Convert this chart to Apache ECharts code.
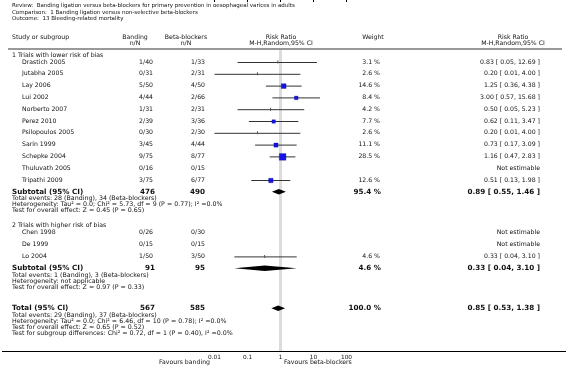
<!DOCTYPE html>
<html><head><meta charset="utf-8">
<script src="https://cdn.jsdelivr.net/npm/echarts@6/dist/echarts.min.js"></script>
<style>html,body{margin:0;padding:0;background:#fff}#c{width:566px;height:368px}</style>
</head><body><div id="c"></div>
<script>
// ---------- DATA ----------
const titleLines = [
  'Review:  Banding ligation versus beta-blockers for primary prevention in oesophageal varices in adults',
  'Comparison:  1 Banding ligation versus non-selective beta-blockers',
  'Outcome:  13 Bleeding-related mortality'
];
const g1Title = '1 Trials with lower risk of bias';
const g1Studies = ['Drastich 2005','Jutabha 2005','Lay 2006','Lui 2002','Norberto 2007','Perez 2010','Psilopoulos 2005','Sarin 1999','Schepke 2004','Thuluvath 2005','Tripathi 2009'];
const g1Banding = ['1/40','0/31','5/50','4/44','1/31','2/39','0/30','3/45','9/75','0/16','3/75'];
const g1Beta    = ['1/33','2/31','4/50','2/66','2/31','3/36','2/30','4/44','8/77','0/15','6/77'];
const g1Weight  = [3.1, 2.6, 14.6, 8.4, 4.2, 7.7, 2.6, 11.1, 28.5, null, 12.6];
const g1RR      = [0.83, 0.20, 1.25, 3.00, 0.50, 0.62, 0.20, 0.73, 1.16, null, 0.51];
const g1Lo      = [0.05, 0.01, 0.36, 0.57, 0.05, 0.11, 0.01, 0.17, 0.47, null, 0.13];
const g1Hi      = [12.69, 4.00, 4.38, 15.68, 5.23, 3.47, 4.00, 3.09, 2.83, null, 1.98];
const g1Sub = {n1:'476', n2:'490', w:95.4, rr:0.89, lo:0.55, hi:1.46};
const g1Notes = ['Total events: 28 (Banding), 34 (Beta-blockers)',
  'Heterogeneity: Tau\u00b2 = 0.0; Chi\u00b2 = 5.73, df = 9 (P = 0.77); I\u00b2 =0.0%',
  'Test for overall effect: Z = 0.45 (P = 0.65)'];

const g2Title = '2 Trials with higher risk of bias';
const g2Studies = ['Chen 1998','De 1999','Lo 2004'];
const g2Banding = ['0/26','0/15','1/50'];
const g2Beta    = ['0/30','0/15','3/50'];
const g2Weight  = [null, null, 4.6];
const g2RR      = [null, null, 0.33];
const g2Lo      = [null, null, 0.04];
const g2Hi      = [null, null, 3.10];
const g2Sub = {n1:'91', n2:'95', w:4.6, rr:0.33, lo:0.04, hi:3.10};
const g2Notes = ['Total events: 1 (Banding), 3 (Beta-blockers)',
  'Heterogeneity: not applicable',
  'Test for overall effect: Z = 0.97 (P = 0.33)'];

const total = {n1:'567', n2:'585', w:100.0, rr:0.85, lo:0.53, hi:1.38};
const totalNotes = ['Total events: 29 (Banding), 37 (Beta-blockers)',
  'Heterogeneity: Tau\u00b2 = 0.0; Chi\u00b2 = 6.46, df = 10 (P = 0.78); I\u00b2 =0.0%',
  'Test for overall effect: Z = 0.65 (P = 0.52)',
  'Test for subgroup differences: Chi\u00b2 = 0.72, df = 1 (P = 0.40), I\u00b2 =0.0%'];

const tickValues = [0.01, 0.1, 1, 10, 100];
const tickLabels = ['0.01', '0.1', '1', '10', '100'];
const favLeft = 'Favours banding';
const favRight = 'Favours beta-blockers';

// ---------- LAYOUT ----------
const FONT = 'DejaVu Sans';
const FS = 6.2, FSN = 6.3, FSB = 7.2, FST = 5.5;
const COL = '#111';
const X = {grp:12, name:22, n1:153, n2:205, rrHead:281, wHead:373, w:380, ciHead:513, ci:540};
const AXIS_Y = 351;

let y = 55;
const rows = [];
function addGroup(title, studies, b, bb, w, rr, lo, hi, sub, notes){
  rows.push({kind:'grp', y, text:title});
  y += 7;
  studies.forEach((s,i)=>{
    rows.push({kind:'study', y, name:s, n1:b[i], n2:bb[i], w:w[i], rr:rr[i], lo:lo[i], hi:hi[i]});
    y += 11.8;
  });
  rows.push({kind:'sub', y, name:'Subtotal (95% CI)', ...sub});
  y += 7;
  notes.forEach(n=>{ rows.push({kind:'note', y, text:n}); y += 6; });
}
addGroup(g1Title, g1Studies, g1Banding, g1Beta, g1Weight, g1RR, g1Lo, g1Hi, g1Sub, g1Notes);
y += 9;
addGroup(g2Title, g2Studies, g2Banding, g2Beta, g2Weight, g2RR, g2Lo, g2Hi, g2Sub, g2Notes);
y += 15;
rows.push({kind:'sub', y, name:'Total (95% CI)', ...total});
y += 7;
totalNotes.forEach(n=>{ rows.push({kind:'note', y, text:n}); y += 6; });

const fmtCI = r => r.rr==null ? 'Not estimable' : `${r.rr.toFixed(2)} [ ${r.lo.toFixed(2)}, ${r.hi.toFixed(2)} ]`;
const fmtW = w => w==null ? '' : `${w.toFixed(1)} %`;

function txt(x, yy, text, o={}){
  const fs = o.fs || FS;
  return {type:'text', x, y:yy, silent:true, style:{
    text, fill:o.fill||COL, fontFamily:FONT, fontSize:fs, fontWeight:o.bold?'bold':'normal',
    align:o.align||'left', verticalAlign:'middle', textAlign:o.align||'left', textVerticalAlign:'middle'}};
}

const graphics = [];
titleLines.forEach((t,i)=>graphics.push(txt(12, 6 + i*6.3, t, {fs:FST})));
graphics.push(txt(X.grp, 37, 'Study or subgroup'));
graphics.push(txt(135, 37, 'Banding', {align:'center'}));
graphics.push(txt(135, 43, 'n/N', {align:'center'}));
graphics.push(txt(186, 37, 'Beta-blockers', {align:'center'}));
graphics.push(txt(186, 43, 'n/N', {align:'center'}));
graphics.push(txt(X.rrHead, 37, 'Risk Ratio', {align:'center'}));
graphics.push(txt(X.rrHead, 43, 'M-H,Random,95% CI', {align:'center'}));
graphics.push(txt(X.wHead, 37, 'Weight', {align:'center'}));
graphics.push(txt(X.ciHead, 37, 'Risk Ratio', {align:'center'}));
graphics.push(txt(X.ciHead, 43, 'M-H,Random,95% CI', {align:'center'}));
graphics.push({type:'line', silent:true, shape:{x1:8, y1:49, x2:562, y2:49}, style:{stroke:'#999', lineWidth:2}});
graphics.push({type:'line', silent:true, shape:{x1:2, y1:AXIS_Y+0.5, x2:566, y2:AXIS_Y+0.5}, style:{stroke:'#000', lineWidth:1}});
graphics.push(txt(210, 362, favLeft, {align:'right'}));
graphics.push(txt(284, 362, favRight, {align:'left'}));

rows.forEach(r=>{
  if (r.kind==='grp') graphics.push(txt(X.grp, r.y, r.text));
  else if (r.kind==='note') graphics.push(txt(X.grp, r.y, r.text, {fs:FSN}));
  else if (r.kind==='study'){
    graphics.push(txt(X.name, r.y, r.name));
    graphics.push(txt(X.n1, r.y, r.n1, {align:'right'}));
    graphics.push(txt(X.n2, r.y, r.n2, {align:'right'}));
    graphics.push(txt(X.w, r.y, fmtW(r.w), {align:'right'}));
    graphics.push(txt(X.ci, r.y, fmtCI(r), {align:'right'}));
  } else if (r.kind==='sub'){
    graphics.push(txt(X.grp, r.y, r.name, {bold:true, fs:FSB}));
    graphics.push(txt(X.n1+2, r.y, r.n1, {bold:true, fs:FSB, align:'right'}));
    graphics.push(txt(X.n2, r.y, r.n2, {bold:true, fs:FSB, align:'right'}));
    graphics.push(txt(X.w+1, r.y, fmtW(r.w), {bold:true, fs:FSB, align:'right'}));
    graphics.push(txt(X.ci, r.y, fmtCI(r), {bold:true, fs:FSB, align:'right'}));
  }
});

const studyData = rows.filter(r=>r.kind==='study' && r.rr!=null).map(r=>[r.rr, r.lo, r.hi, r.w, r.y]);
const diamondData = rows.filter(r=>r.kind==='sub').map(r=>[r.rr, r.lo, r.hi, r.y]);

const chart = echarts.init(document.getElementById('c'), null, {renderer:'canvas'});
chart.setOption({
  animation:false,
  grid:{left:214.5, right:566-346.5, top:0, bottom:368-AXIS_Y},
  xAxis:{type:'log', logBase:10, min:0.01, max:100,
    axisLine:{show:false},
    axisTick:{show:true, length:2, lineStyle:{color:'#000', width:1}},
    splitLine:{show:false},
    axisLabel:{fontFamily:FONT, fontSize:5.8, color:COL, margin:3,
      formatter:v=>{const i=tickValues.findIndex(t=>Math.abs(Math.log10(t)-Math.log10(v))<1e-6); return i>=0?tickLabels[i]:'';}}},
  yAxis:{type:'value', min:0, max:AXIS_Y, inverse:true, show:false},
  graphic:graphics,
  series:[
    {type:'custom', silent:true, data:[[1]], z:1,
      renderItem:(p,api)=>{const a=api.coord([1,50]), b=api.coord([1,AXIS_Y]);
        return {type:'line', shape:{x1:a[0],y1:a[1],x2:b[0],y2:b[1]}, style:{stroke:'#dcdcdc', lineWidth:3}};}},
    {type:'custom', silent:true, data:studyData, z:3,
      renderItem:(p,api)=>{
        const yy=api.value(4), w=api.value(3);
        const l=api.coord([api.value(1),yy]), h=api.coord([api.value(2),yy]), c=api.coord([api.value(0),yy]);
        const kids=[{type:'line', shape:{x1:l[0],y1:l[1]+0.5,x2:h[0],y2:h[1]+0.5}, style:{stroke:'#333', lineWidth:1}}];
        if (w<5) kids.push({type:'rect', shape:{x:c[0]-0.5,y:c[1]-1.5,width:1,height:3}, style:{fill:'#555'}});
        else {const s=1.25*Math.sqrt(w); kids.push({type:'rect', shape:{x:c[0]-s/2,y:c[1]-s/2+0.5,width:s,height:s}, style:{fill:'#1414e6', stroke:'#000080', lineWidth:0.3}});}
        return {type:'group', children:kids};
      }},
    {type:'custom', silent:true, data:diamondData, z:3,
      renderItem:(p,api)=>{
        const yy=api.value(3);
        const l=api.coord([api.value(1),yy]), h=api.coord([api.value(2),yy]), c=api.coord([api.value(0),yy]);
        const hh=2.8;
        return {type:'polygon', shape:{points:[[l[0],c[1]],[c[0],c[1]-hh],[h[0],c[1]],[c[0],c[1]+hh]]}, style:{fill:'#000'}};
      }}
  ]
});
</script></body></html>
